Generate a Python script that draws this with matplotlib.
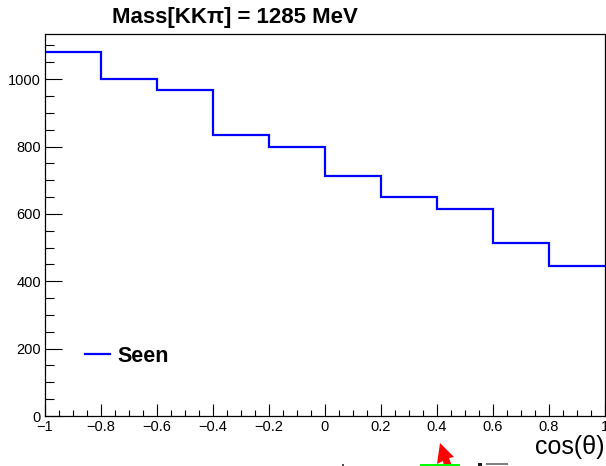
import matplotlib
matplotlib.use("Agg")
import matplotlib.pyplot as plt
from matplotlib.patches import Polygon, Rectangle
from matplotlib.ticker import MultipleLocator, FixedLocator
import numpy as np

plt.rcParams['font.family'] = ['Liberation Sans', 'DejaVu Sans']

# data
bin_edges = [-1.0, -0.8, -0.6, -0.4, -0.2, 0.0, 0.2, 0.4, 0.6, 0.8, 1.0]
counts = [1080, 1000, 967, 835, 798, 712, 650, 614, 513, 444]
series_label = "Seen"
title = "Mass[KK\u03c0] = 1285 MeV"
x_label = "cos(\u03b8)"
x_ticks = [-1, -0.8, -0.6, -0.4, -0.2, 0, 0.2, 0.4, 0.6, 0.8, 1]
x_ticklabels = ["\u22121", "\u22120.8", "\u22120.6", "\u22120.4", "\u22120.2", "0", "0.2", "0.4", "0.6", "0.8", "1"]
y_ticks = [0, 200, 400, 600, 800, 1000]

W, H = 606, 466
fig = plt.figure(figsize=(W / 100, H / 100), dpi=100)
ax = fig.add_axes([45 / W, 1 - 416 / H, 559.5 / W, (416 - 34) / H])

ax.stairs(counts, bin_edges, baseline=None, color=(0, 0, 1), lw=1.6, label=series_label)

ax.set_xlim(-1, 1)
ax.set_ylim(0, 1134)

ax.xaxis.set_major_locator(FixedLocator(x_ticks))
ax.set_xticklabels(x_ticklabels)
ax.xaxis.set_minor_locator(MultipleLocator(0.05))
ax.yaxis.set_major_locator(FixedLocator(y_ticks))
ax.yaxis.set_minor_locator(MultipleLocator(50))

ax.tick_params(axis='x', which='major', direction='in', length=8.6, width=0.8, labelsize=10.5, pad=3)
ax.tick_params(axis='x', which='minor', direction='in', length=4.3, width=0.8)
ax.tick_params(axis='y', which='major', direction='in', length=12.2, width=0.8, labelsize=10.5, pad=3)
ax.tick_params(axis='y', which='minor', direction='in', length=6.5, width=0.8)
ax.tick_params(top=False, right=False, which='both')
for s in ax.spines.values():
    s.set_linewidth(0.9)

leg = ax.legend(loc='center left', bbox_to_anchor=(0.0715, 0.157), frameon=False,
                prop={'weight': 'bold', 'size': 15.5}, handlelength=1.15,
                handletextpad=0.35, borderpad=0, borderaxespad=0)

fig.text(235 / W, 1 - 18 / H, title, ha='center', va='center', fontsize=16, fontweight='bold')
fig.text(605 / W, 1 - 447 / H, x_label, ha='right', va='center', fontsize=18)

# clipped decorations at bottom edge
def px(pts):
    return [(x / W, 1 - y / H) for x, y in pts]

fig.add_artist(Polygon(px([(440, 443), (454, 457), (449, 458), (452, 466), (444, 466), (443, 461), (437, 464)]),
                       closed=True, transform=fig.transFigure, facecolor='red', edgecolor='none'))
fig.add_artist(Rectangle((420 / W, 0), 40 / W, 2.5 / H, transform=fig.transFigure, facecolor=(0, 1, 0), edgecolor='none'))
fig.add_artist(Rectangle((342 / W, 0), 2.5 / W, 2.5 / H, transform=fig.transFigure, facecolor='0.3', edgecolor='none'))
fig.add_artist(Rectangle((478 / W, 0), 4 / W, 3 / H, transform=fig.transFigure, facecolor='0.1', edgecolor='none'))
fig.add_artist(Rectangle((486 / W, 1 / H), 22 / W, 2 / H, transform=fig.transFigure, facecolor='0.5', edgecolor='none'))

fig.savefig("out.png", dpi=100)
